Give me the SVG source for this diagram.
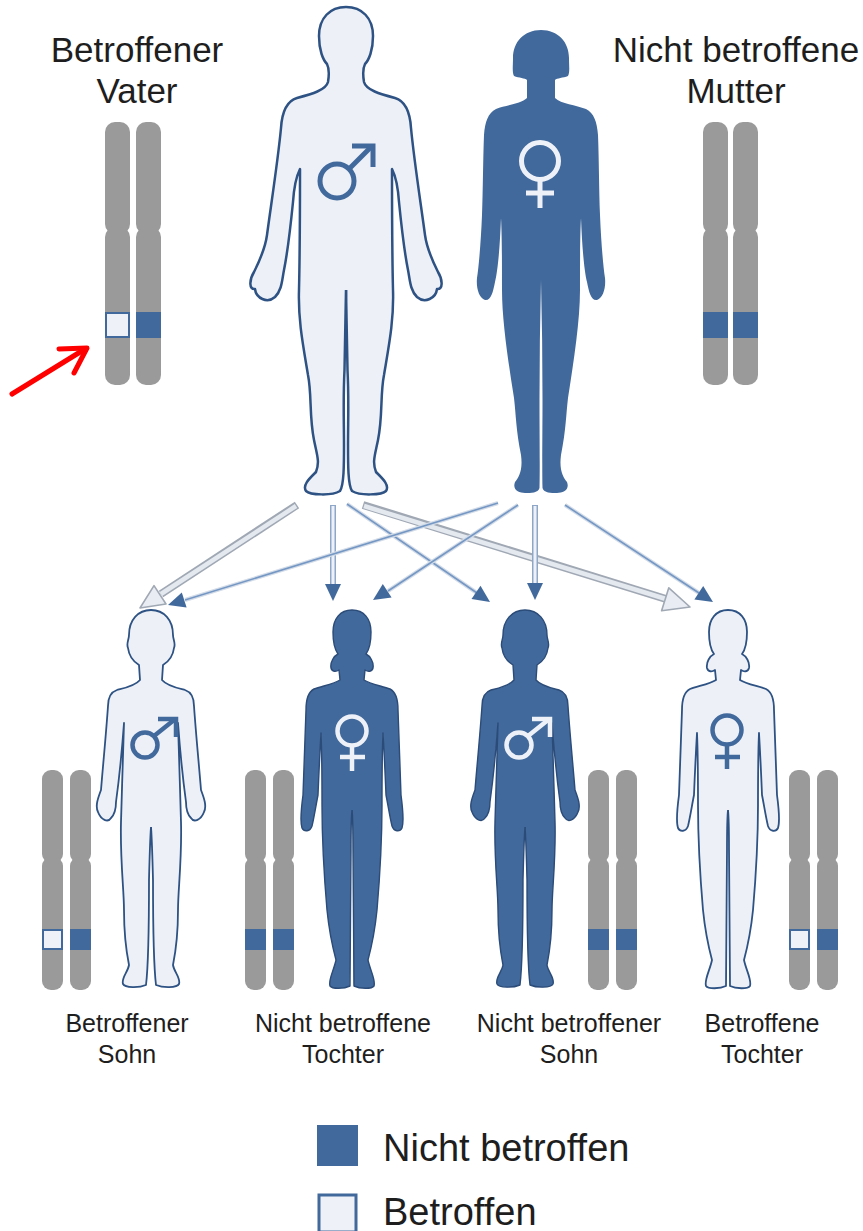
<svg xmlns="http://www.w3.org/2000/svg" xmlns:xlink="http://www.w3.org/1999/xlink" width="863" height="1231" viewBox="0 0 863 1231">
  <style>
    .txt { font-family: "Liberation Sans", Arial, sans-serif; fill: #1e1e1e; text-anchor: middle; }
    .big { font-size: 35px; }
    .small { font-size: 25px; }
    .legend { font-family: "Liberation Sans", Arial, sans-serif; fill: #1e1e1e; font-size: 38px; }
    .chr { fill: #9a9a9a; }
    .band-on { fill: #41699c; }
    .band-off { fill: #eef2f8; stroke: #41699c; stroke-width: 2; }
    .light { fill: #edf1f7; stroke: #2d5283; stroke-width: 2.5; stroke-linejoin: round; stroke-linecap: butt; }
    .light-s { fill: #edf1f7; stroke: #2d5283; stroke-width: 1.8; stroke-linejoin: round; }
    .dark { fill: #41699c; stroke: none; }
    .dark-s { fill: #41699c; stroke: #2b4b78; stroke-width: 1.4; stroke-linejoin: round; }
    .sym-b { fill: none; stroke: #41699c; }
    .sym-w { fill: none; stroke: #eef2f8; }
    .gray-out { stroke: #a0a8b4; stroke-width: 8; fill: none; }
    .gray-in { stroke: #e4e9f0; stroke-width: 4.5; fill: none; }
    .gray-head { fill: #e9edf3; stroke: #a0a8b4; stroke-width: 1.6; stroke-linejoin: round; }
    .thin-halo { stroke: #d3dce8; stroke-width: 4; fill: none; }
    .thin { stroke: #7597c4; stroke-width: 1.6; fill: none; }
    .dbl-out { stroke: #8ea7c8; stroke-width: 6; fill: none; }
    .dbl-in { stroke: #eef2f8; stroke-width: 3; fill: none; }
    .blue-head { fill: #41699c; }
  </style>
  <defs>
    <!-- right halves of the silhouettes; the left halves are mirrored copies -->
    <path id="man-half" d="M0,0 C16,0 27,11 27,29 C27,43 23,53 19,57 C17,61 17,69 18,75 C20,83 34,87 49,91 C59,94 64,105 65,121 C68,153 75,198 79,228 C81,243 87,255 92,265 C97,273 97,283 91,282 C90,291 79,297 71,290 C64,283 64,273 62,263 C58,243 55,215 53,195 C52,180 49,168 46,162 C46,190 46,240 47,283 C48,313 43,338 38,368 C34,388 37,408 32,433 C29,448 26,455 30,465 C36,471 44,478 40,484 C36,488 14,489 6,484 C2,478 2,458 2,438 C2,413 3,393 1.5,363 C1,333 0.5,303 0,283"/>
    <path id="woman-half" d="M0,0 C17,0 28,12 28,28 C28,36 29,42 27,46 C22,48 16,48 14,50 L14,68 C20,74 35,75 45,79 C53,83 56,92 57,105 C58,130 58,160 59,185 C60,210 62,235 64,248 C65,258 62,268 56,270 C50,271 48,262 46,252 C43,240 41,215 40,188 C39,205 39,235 39,260 C39,290 33,330 27,368 C25,385 25,400 20,425 C18,440 22,447 26,452 C29,460 22,463 16,463 C10,463 3,463 1.5,458 C1,440 1.5,400 1.5,370 C1.5,330 1,290 0,250"/>
    <path id="boy-half" d="M0,0 C13,0 22,10 22,25 C22,30 25,33 23,38 C22,46 17,52 12,55 L11,70 C16,76 26,78 34,80 C40,82 43,88 43,96 C45,125 48,155 50,180 C53,188 56,196 53,202 C50,210 43,213 40,208 C36,204 35,198 35,192 C32,170 29,140 27,113 C28,140 29,180 30,212 C31,250 27,280 27,300 C27,320 25,340 22,355 C23,362 30,368 28,374 C26,378 12,378 5,375 C2,350 2,300 2,270 C1.5,250 1,230 0,217"/>
    <path id="girl-half" d="M0,0 C12,0 19,9 19,22 C19,32 17,40 14,44 C18,46 22,52 21,58 C20,62 16,62 13,60 L12,70 C18,74 30,76 38,79 C44,82 46,90 46,100 C47,130 48,160 49,185 C51,200 52,212 50,218 C48,222 42,222 40,216 C38,208 36,195 34,185 C33,160 32,140 31,123 C30,145 30,170 30,195 C30,230 28,265 25,300 C23,320 20,335 16,350 C18,360 24,370 22,376 C20,379 8,379 2,376 C1.5,350 1.5,260 1,240 C1,220 0.5,205 0,200"/>
    <!-- chromosome outlines: large (parents) and small (children) -->
    <g id="chr-l">
      <rect x="0" y="122" width="25" height="112" rx="10"/>
      <rect x="0" y="227" width="25" height="158" rx="10"/>
    </g>
    <g id="chr-s">
      <rect x="0" y="770" width="21" height="93" rx="9"/>
      <rect x="0" y="857" width="21" height="133" rx="9"/>
    </g>
  </defs>

  <rect width="863" height="1231" fill="#ffffff"/>

  <!-- father -->
  <g id="father">
    <text class="txt big" x="137" y="62">Betroffener</text>
    <text class="txt big" x="137" y="103">Vater</text>
    <g class="chr"><use href="#chr-l" x="105"/><use href="#chr-l" x="136"/></g>
    <rect class="band-off" x="106" y="313" width="23" height="24"/>
    <rect class="band-on" x="136" y="312" width="25" height="26"/>
    <g class="light" transform="translate(346,7)">
      <use href="#man-half"/>
      <use href="#man-half" transform="scale(-1,1)"/>
    </g>
    <g class="sym-b" stroke-width="5">
      <circle cx="337" cy="181" r="17"/>
      <line x1="349" y1="169" x2="371" y2="147"/>
      <path d="M352,146 H373 V167"/>
    </g>
  </g>

  <!-- mother -->
  <g id="mother">
    <text class="txt big" x="736" y="62">Nicht betroffene</text>
    <text class="txt big" x="736" y="103">Mutter</text>
    <g class="chr"><use href="#chr-l" x="703"/><use href="#chr-l" x="733"/></g>
    <rect class="band-on" x="703" y="312" width="25" height="26"/>
    <rect class="band-on" x="733" y="312" width="25" height="26"/>
    <g class="dark" transform="translate(541,30)">
      <use href="#woman-half"/>
      <use href="#woman-half" transform="scale(-1,1)"/>
    </g>
    <g class="sym-w" stroke-width="5">
      <circle cx="540" cy="161" r="18.5"/>
      <line x1="540" y1="180" x2="540" y2="208"/>
      <line x1="526" y1="193" x2="554" y2="193"/>
    </g>
  </g>

  <!-- red pointer -->
  <g id="pointer" stroke="#ff0000" stroke-width="5" fill="none" stroke-linecap="round" stroke-linejoin="round">
    <line x1="12" y1="394" x2="85" y2="349"/>
    <path d="M59,349 L87,348 L74,373"/>
  </g>

  <!-- affected son -->
  <g id="son-affected">
    <g class="chr"><use href="#chr-s" x="42"/><use href="#chr-s" x="70"/></g>
    <rect class="band-off" x="43" y="930" width="19" height="19"/>
    <rect class="band-on" x="70" y="929" width="21" height="21"/>
    <g class="light-s" transform="translate(151,610)">
      <use href="#boy-half"/>
      <use href="#boy-half" transform="scale(-1,1)"/>
    </g>
    <g class="sym-b" stroke-width="4.5">
      <circle cx="145" cy="745" r="12.5"/>
      <line x1="154" y1="736" x2="174" y2="720"/>
      <path d="M158,719 H176 V737"/>
    </g>
    <text class="txt small" x="127" y="1032">Betroffener</text>
    <text class="txt small" x="127" y="1063">Sohn</text>
  </g>

  <!-- unaffected daughter -->
  <g id="daughter-unaffected">
    <g class="chr"><use href="#chr-s" x="245"/><use href="#chr-s" x="273"/></g>
    <rect class="band-on" x="245" y="929" width="21" height="21"/>
    <rect class="band-on" x="273" y="929" width="21" height="21"/>
    <g class="dark-s" transform="translate(352,610)">
      <use href="#girl-half"/>
      <use href="#girl-half" transform="scale(-1,1)"/>
    </g>
    <g class="sym-w" stroke-width="4.5">
      <circle cx="352" cy="731" r="14.5"/>
      <line x1="352" y1="745" x2="352" y2="771"/>
      <line x1="340" y1="757" x2="365" y2="757"/>
    </g>
    <text class="txt small" x="343" y="1032">Nicht betroffene</text>
    <text class="txt small" x="343" y="1063">Tochter</text>
  </g>

  <!-- unaffected son -->
  <g id="son-unaffected">
    <g class="chr"><use href="#chr-s" x="588"/><use href="#chr-s" x="616"/></g>
    <rect class="band-on" x="588" y="929" width="21" height="21"/>
    <rect class="band-on" x="616" y="929" width="21" height="21"/>
    <g class="dark-s" transform="translate(525,610)">
      <use href="#boy-half"/>
      <use href="#boy-half" transform="scale(-1,1)"/>
    </g>
    <g class="sym-w" stroke-width="4.5">
      <circle cx="519" cy="745" r="12.5"/>
      <line x1="528" y1="736" x2="548" y2="720"/>
      <path d="M532,719 H550 V737"/>
    </g>
    <text class="txt small" x="569" y="1032">Nicht betroffener</text>
    <text class="txt small" x="569" y="1063">Sohn</text>
  </g>

  <!-- affected daughter -->
  <g id="daughter-affected">
    <g class="chr"><use href="#chr-s" x="789"/><use href="#chr-s" x="817"/></g>
    <rect class="band-off" x="790" y="930" width="19" height="19"/>
    <rect class="band-on" x="817" y="929" width="21" height="21"/>
    <g class="light-s" transform="translate(728,610)">
      <use href="#girl-half"/>
      <use href="#girl-half" transform="scale(-1,1)"/>
    </g>
    <g class="sym-b" stroke-width="4.5">
      <circle cx="727" cy="730" r="14.5"/>
      <line x1="727" y1="744" x2="727" y2="769"/>
      <line x1="715" y1="757" x2="740" y2="757"/>
    </g>
    <text class="txt small" x="762" y="1032">Betroffene</text>
    <text class="txt small" x="762" y="1063">Tochter</text>
  </g>

  <!-- inheritance arrows -->
  <g id="connectors">
    <!-- from the father -->
    <line class="gray-out" x1="297" y1="505" x2="161" y2="594"/>
    <line class="gray-in" x1="296" y1="506" x2="161" y2="594"/>
    <polygon class="gray-head" points="140,608 154,585.6 166,604"/>
    <line class="gray-out" x1="363" y1="505" x2="666" y2="599"/>
    <line class="gray-in" x1="364" y1="506" x2="666" y2="599"/>
    <polygon class="gray-head" points="690,607 661.6,610.8 668.8,587.8"/>
    <line class="dbl-out" x1="333" y1="505" x2="333" y2="585"/>
    <line class="dbl-in" x1="333" y1="506" x2="333" y2="585"/>
    <polygon class="blue-head" points="333,601 325,584 341,584"/>
    <line class="thin-halo" x1="347" y1="504" x2="477" y2="593"/>
    <line class="thin" x1="347" y1="504" x2="477" y2="593"/>
    <polygon class="blue-head" points="490,602 471.5,599 480.5,585.8"/>
    <!-- from the mother -->
    <line class="thin-halo" x1="498" y1="503" x2="185" y2="600"/>
    <line class="thin" x1="498" y1="503" x2="185" y2="600"/>
    <polygon class="blue-head" points="168,605 181.8,592.4 186.6,607.6"/>
    <line class="thin-halo" x1="518" y1="505" x2="388" y2="591"/>
    <line class="thin" x1="518" y1="505" x2="388" y2="591"/>
    <polygon class="blue-head" points="373,600 382.8,584 391.6,597.4"/>
    <line class="dbl-out" x1="535" y1="505" x2="535" y2="584"/>
    <line class="dbl-in" x1="535" y1="506" x2="535" y2="584"/>
    <polygon class="blue-head" points="535,600 527,583 543,583"/>
    <line class="thin-halo" x1="565" y1="505" x2="699" y2="593"/>
    <line class="thin" x1="565" y1="505" x2="699" y2="593"/>
    <polygon class="blue-head" points="713,602 694.4,599.4 703.2,586"/>
  </g>

  <!-- legend -->
  <g id="legend">
    <rect x="317" y="1125" width="41" height="41" fill="#41699c"/>
    <text class="legend" x="383" y="1161">Nicht betroffen</text>
    <rect x="319" y="1195" width="37" height="37" fill="#eef2f8" stroke="#41699c" stroke-width="3"/>
    <text class="legend" x="383" y="1225">Betroffen</text>
  </g>
</svg>
